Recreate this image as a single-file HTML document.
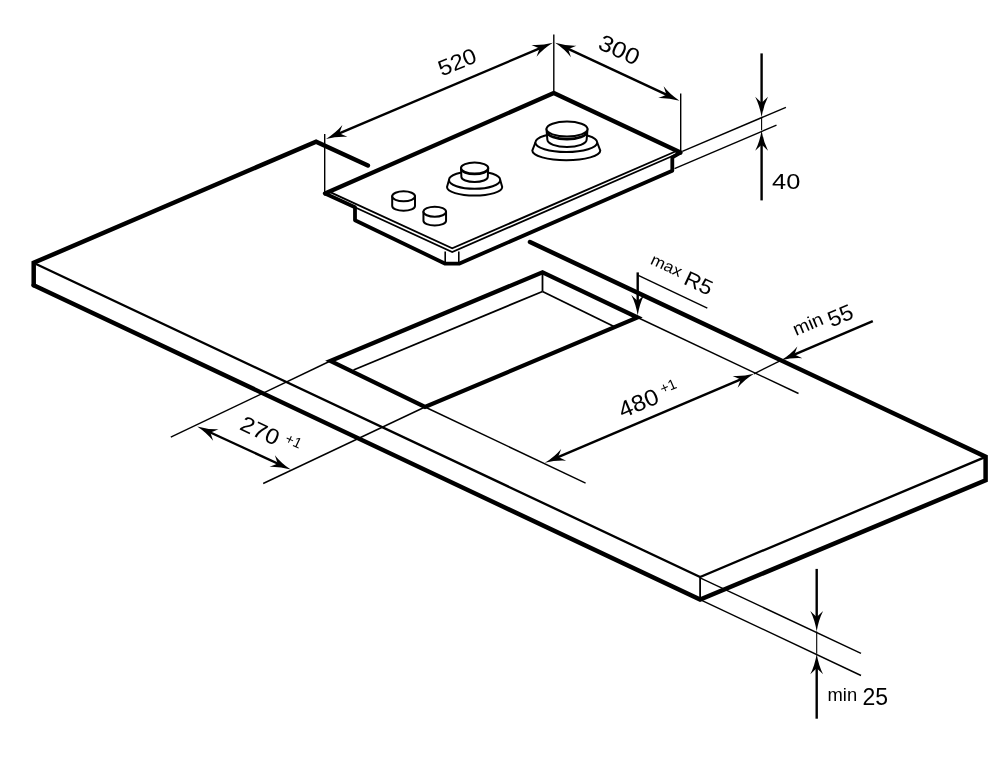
<!DOCTYPE html>
<html><head><meta charset="utf-8"><style>
html,body{margin:0;padding:0;background:#fff;}
body{width:1000px;height:763px;overflow:hidden;}
svg{display:block;filter:grayscale(100%);}
text{font-family:"Liberation Sans",sans-serif;fill:#000;stroke:none;}
</style></head><body>
<svg width="1000" height="763" viewBox="0 0 1000 763">
<rect width="1000" height="763" fill="#fff"/>
<g stroke="#000" fill="none">
<path d="M33.7 285.2 L33.7 262.8 L316.1 141.6 L367.9 165.5" stroke-width="4.5" stroke-linejoin="miter" stroke-linecap="round" fill="none"/>
<path d="M530 242 L985.6 456.8 L985.6 480.3 L700.1 599.6 L33.7 285.2" stroke-width="4.5" stroke-linejoin="miter" stroke-linecap="round" fill="none"/>
<path d="M36 264 L700.1 577 L985.6 456.8" stroke-width="2.35" stroke-linejoin="miter" stroke-linecap="butt" fill="none"/>
<line x1="700.1" y1="577" x2="700.1" y2="599.6" stroke-width="1.8" stroke-linecap="butt"/>
<path d="M330.3 361 L542.5 272.3 L637.6 317.5 L425 407Z" stroke-width="4.2" stroke-linejoin="miter" stroke-linecap="butt" fill="none"/>
<line x1="542.5" y1="272.3" x2="542.5" y2="291.5" stroke-width="1.8" stroke-linecap="butt"/>
<line x1="542.5" y1="291.5" x2="353.5" y2="370" stroke-width="1.8" stroke-linecap="butt"/>
<line x1="542.5" y1="291.5" x2="615" y2="327" stroke-width="1.8" stroke-linecap="butt"/>
<path d="M325 193.5 L355 207.2 L355 220.3 L445.3 263.7 L459 263.7 L672.3 170.7 L672.3 157.4 L680.5 152.5" stroke-width="3.8" stroke-linejoin="round" stroke-linecap="butt" fill="none"/>
<line x1="445.2" y1="251.5" x2="445.2" y2="263.5" stroke-width="1.6" stroke-linecap="butt"/>
<line x1="458.8" y1="251.5" x2="458.8" y2="263.5" stroke-width="1.6" stroke-linecap="butt"/>
<path d="M329 191.6 L452.2 248.3 L676.5 151" stroke-width="1.9" stroke-linejoin="miter" stroke-linecap="butt" fill="none"/>
<path d="M325 193.5 L452.2 252 L680.5 152.5" stroke-width="1.9" stroke-linejoin="miter" stroke-linecap="butt" fill="none"/>
<path d="M325 193.5 L553.8 93 L680.5 152.5" stroke-width="4.3" stroke-linejoin="round" stroke-linecap="round" fill="none"/>
<path d="M392.2 196.3 L392.2 206 A11.4 4.8 0 0 0 415 206 L415 196.3 Z" stroke-width="2" fill="#fff" stroke-linejoin="round"/>
<ellipse cx="403.6" cy="196.3" rx="11.4" ry="5" stroke-width="2" fill="#fff"/>
<path d="M423.45 211.7 L423.45 220.8 A11.3 4.8 0 0 0 446.05 220.8 L446.05 211.7 Z" stroke-width="2" fill="#fff" stroke-linejoin="round"/>
<ellipse cx="434.75" cy="211.7" rx="11.3" ry="5" stroke-width="2" fill="#fff"/>
<path d="M449 180 L447 187 A27.6 8.6 0 0 0 502.2 187 L500.2 180 Z" stroke-width="2" fill="#fff" stroke-linejoin="round"/>
<ellipse cx="474.6" cy="180" rx="25.6" ry="8.8" stroke-width="2" fill="#fff"/>
<path d="M461 168 L461.4 177 A13.2 5 0 0 0 487.8 177 L488.2 168 Z" stroke-width="2" fill="#fff" stroke-linejoin="round"/>
<ellipse cx="474.6" cy="168" rx="13.6" ry="5.4" stroke-width="2" fill="#fff"/>
<path d="M461.2 169.3 A13.4 5.2 0 0 0 488 169.3" stroke-width="1.7" fill="none"/>
<path d="M535.4 142.5 L532.3 150.6 A34 9.6 0 0 0 600.3 150.6 L597.2 142.5 Z" stroke-width="2" fill="#fff" stroke-linejoin="round"/>
<ellipse cx="566.3" cy="142.5" rx="30.9" ry="9.5" stroke-width="2" fill="#fff"/>
<path d="M546.5 129.1 L547.35 139.6 A19.65 7.5 0 0 0 586.65 139.6 L587.5 129.1 Z" stroke-width="2" fill="#fff" stroke-linejoin="round"/>
<ellipse cx="567" cy="129.1" rx="20.5" ry="7.5" stroke-width="2" fill="#fff"/>
<path d="M547.3 131.9 A19.7 7.2 0 0 0 586.7 131.9" stroke-width="2.6" fill="none"/>
<line x1="324.7" y1="134" x2="324.7" y2="193" stroke-width="1.4" stroke-linecap="butt"/>
<line x1="553.8" y1="34.5" x2="553.8" y2="92" stroke-width="1.4" stroke-linecap="butt"/>
<path d="M326 138.9 Q337.29 136.07 347.37 136.8 Q342.05 134.49 339.35 133.25 Q340.34 130.44 342.38 125.01 Q335.89 132.76 326 138.9Z" stroke="none" fill="#000"/>
<path d="M552.9 42.8 Q541.61 45.63 531.53 44.9 Q536.85 47.21 539.55 48.45 Q538.56 51.26 536.52 56.69 Q543.01 48.94 552.9 42.8Z" stroke="none" fill="#000"/>
<line x1="333.37" y1="135.78" x2="545.53" y2="45.92" stroke-width="2.4" stroke-linecap="butt"/>
<text transform="translate(460 69) rotate(-22) scale(1.08 1)" font-size="22" text-anchor="middle" font-weight="normal">520</text>
<line x1="680.7" y1="93.4" x2="680.7" y2="151" stroke-width="1.4" stroke-linecap="butt"/>
<path d="M555.1 42.8 Q564.76 49.29 570.98 57.26 Q569.12 51.77 568.24 48.93 Q570.98 47.78 576.38 45.66 Q566.28 46.03 555.1 42.8Z" stroke="none" fill="#000"/>
<path d="M679.5 100.8 Q669.84 94.31 663.62 86.34 Q665.48 91.83 666.36 94.67 Q663.62 95.82 658.22 97.94 Q668.32 97.57 679.5 100.8Z" stroke="none" fill="#000"/>
<line x1="562.35" y1="46.18" x2="672.25" y2="97.42" stroke-width="2.4" stroke-linecap="butt"/>
<text transform="translate(616 57) rotate(24.5) scale(1.1 1)" font-size="23" text-anchor="middle" font-weight="normal">300</text>
<line x1="682.3" y1="151.4" x2="785.9" y2="107.3" stroke-width="1.4" stroke-linecap="butt"/>
<line x1="674.5" y1="168.7" x2="776.5" y2="125.1" stroke-width="1.4" stroke-linecap="butt"/>
<path d="M761.6 117.3 Q763.4 105.8 768 96.8 Q763.8 100.8 761.6 102.8 Q759.4 100.8 755.2 96.8 Q759.8 105.8 761.6 117.3Z" stroke="none" fill="#000"/>
<line x1="761.6" y1="53.4" x2="761.6" y2="109.3" stroke-width="2.4" stroke-linecap="butt"/>
<line x1="761.6" y1="117.3" x2="761.6" y2="130.2" stroke-width="1.1" stroke-linecap="butt"/>
<path d="M761.6 130.2 Q759.8 141.7 755.2 150.7 Q759.4 146.7 761.6 144.7 Q763.8 146.7 768 150.7 Q763.4 141.7 761.6 130.2Z" stroke="none" fill="#000"/>
<line x1="761.6" y1="138.2" x2="761.6" y2="200.4" stroke-width="2.4" stroke-linecap="butt"/>
<text transform="translate(772 189.3) rotate(0) scale(1.13 1)" font-size="22.5" text-anchor="start" font-weight="normal">40</text>
<path d="M637.7 315.5 Q639.5 304 644.1 295 Q639.9 299 637.7 301 Q635.5 299 631.3 295 Q635.9 304 637.7 315.5Z" stroke="none" fill="#000"/>
<line x1="637.7" y1="272.4" x2="637.7" y2="307.5" stroke-width="2.4" stroke-linecap="butt"/>
<line x1="638.3" y1="275.4" x2="707.3" y2="308.2" stroke-width="1.4" stroke-linecap="butt"/>
<text transform="translate(649.5 263.5) rotate(25) scale(1.08 1)" font-size="16" text-anchor="start" font-weight="normal">max</text>
<text transform="translate(682.5 283.5) rotate(25) scale(1.08 1)" font-size="21" text-anchor="start" font-weight="normal">R5</text>
<path d="M781 360.3 Q792.29 357.45 802.37 358.15 Q797.04 355.86 794.34 354.62 Q795.32 351.81 797.35 346.38 Q790.87 354.14 781 360.3Z" stroke="none" fill="#000"/>
<line x1="872.8" y1="321.2" x2="788.36" y2="357.17" stroke-width="2.4" stroke-linecap="butt"/>
<line x1="781" y1="360.3" x2="754" y2="373.8" stroke-width="1.4" stroke-linecap="butt"/>
<line x1="637.6" y1="317.5" x2="798.5" y2="393.5" stroke-width="1.4" stroke-linecap="butt"/>
<text transform="translate(796 336) rotate(-23) scale(1.05 1)" font-size="18.5" text-anchor="start" font-weight="normal">min</text>
<text transform="translate(831.5 327.5) rotate(-23) scale(1.05 1)" font-size="22" text-anchor="start" font-weight="normal">55</text>
<path d="M754 373.8 Q742.71 376.65 732.63 375.94 Q737.96 378.23 740.66 379.48 Q739.68 382.28 737.64 387.71 Q744.12 379.96 754 373.8Z" stroke="none" fill="#000"/>
<path d="M544.8 462.8 Q556.09 459.95 566.17 460.66 Q560.84 458.37 558.14 457.12 Q559.12 454.32 561.16 448.89 Q554.68 456.64 544.8 462.8Z" stroke="none" fill="#000"/>
<line x1="746.64" y1="376.93" x2="552.16" y2="459.67" stroke-width="2.4" stroke-linecap="butt"/>
<line x1="425" y1="407" x2="585.6" y2="483.2" stroke-width="1.4" stroke-linecap="butt"/>
<text transform="translate(622.5 418.5) rotate(-23) scale(1.08 1)" font-size="23" text-anchor="start" font-weight="normal">480</text>
<text transform="translate(662.5 394) rotate(-23) scale(1 1)" font-size="14.5" text-anchor="start" font-weight="normal">+1</text>
<line x1="330.3" y1="361" x2="170.8" y2="437.2" stroke-width="1.4" stroke-linecap="butt"/>
<line x1="425" y1="407" x2="263.2" y2="483.5" stroke-width="1.4" stroke-linecap="butt"/>
<path d="M197.2 426.4 Q206.89 432.85 213.13 440.8 Q211.26 435.31 210.37 432.48 Q213.1 431.32 218.5 429.18 Q208.4 429.58 197.2 426.4Z" stroke="none" fill="#000"/>
<path d="M290.8 469.6 Q281.11 463.15 274.87 455.2 Q276.74 460.69 277.63 463.52 Q274.9 464.68 269.5 466.82 Q279.6 466.42 290.8 469.6Z" stroke="none" fill="#000"/>
<line x1="204.46" y1="429.75" x2="283.54" y2="466.25" stroke-width="2.4" stroke-linecap="butt"/>
<text transform="translate(238.5 429) rotate(25) scale(1.1 1)" font-size="22" text-anchor="start" font-weight="normal">270</text>
<text transform="translate(284 442) rotate(25) scale(1 1)" font-size="14.5" text-anchor="start" font-weight="normal">+1</text>
<line x1="700.1" y1="577.8" x2="861" y2="653.4" stroke-width="1.4" stroke-linecap="butt"/>
<line x1="700.1" y1="599.6" x2="861" y2="675.5" stroke-width="1.4" stroke-linecap="butt"/>
<path d="M816.7 631.4 Q818.5 619.9 823.1 610.9 Q818.9 614.9 816.7 616.9 Q814.5 614.9 810.3 610.9 Q814.9 619.9 816.7 631.4Z" stroke="none" fill="#000"/>
<line x1="816.7" y1="568.9" x2="816.7" y2="623.4" stroke-width="2.4" stroke-linecap="butt"/>
<line x1="816.7" y1="631.4" x2="816.7" y2="653.8" stroke-width="1.1" stroke-linecap="butt"/>
<path d="M816.7 653.8 Q814.9 665.3 810.3 674.3 Q814.5 670.3 816.7 668.3 Q818.9 670.3 823.1 674.3 Q818.5 665.3 816.7 653.8Z" stroke="none" fill="#000"/>
<line x1="816.7" y1="661.8" x2="816.7" y2="718.7" stroke-width="2.4" stroke-linecap="butt"/>
<text transform="translate(827.5 700.5) rotate(0) scale(1.05 1)" font-size="17.5" text-anchor="start" font-weight="normal">min</text>
<text transform="translate(862.5 705.3) rotate(0) scale(1 1)" font-size="23" text-anchor="start" font-weight="normal">25</text>
</g>
</svg>
</body></html>
